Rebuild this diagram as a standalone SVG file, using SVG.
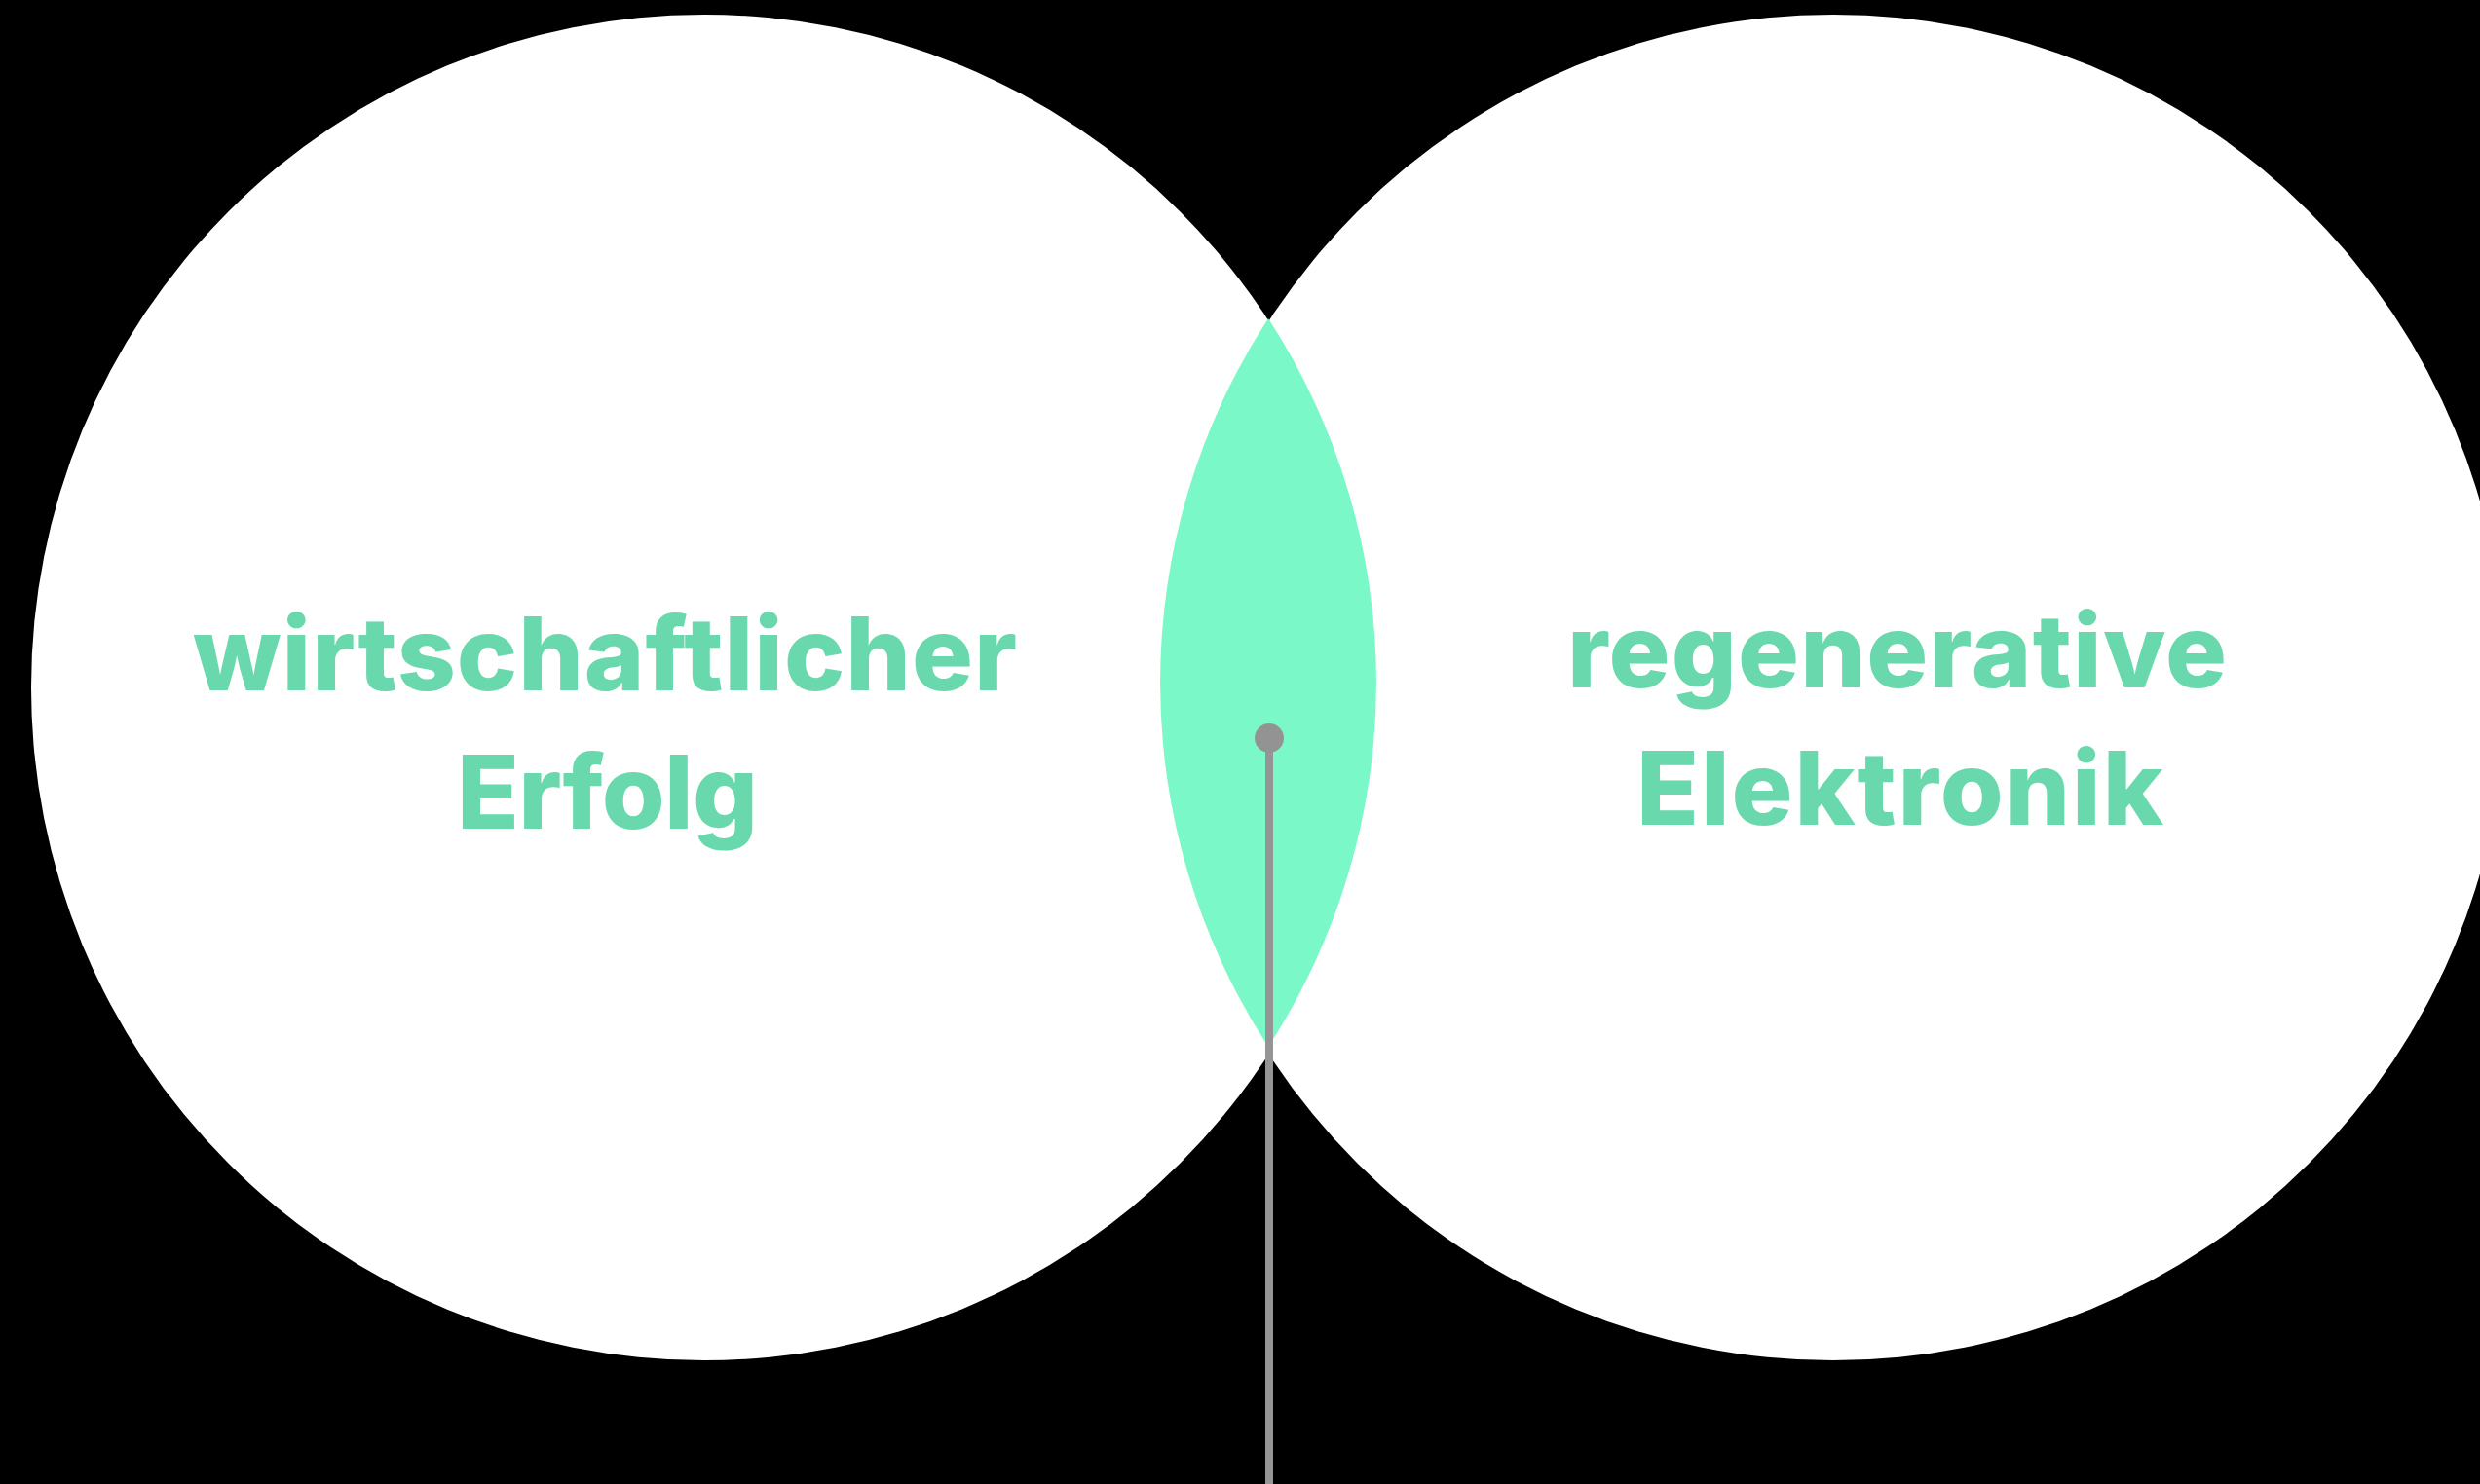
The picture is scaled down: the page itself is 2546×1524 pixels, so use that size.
<svg xmlns="http://www.w3.org/2000/svg" width="2546" height="1524" viewBox="0 0 2546 1524">
  <style>
    .circle { fill: #ffffff; }
    .lens { fill: #7af8c8; }
    .label { font-family: Inter, "Open Sans", "Liberation Sans", sans-serif; font-weight: 800; font-size: 105px; fill: #69d9ad; text-anchor: start; }
    .pointer { stroke: #959595; stroke-width: 8; fill: none; }
    .pin { fill: #939393; }
  </style>
  <rect x="0" y="0" width="2546" height="1524" fill="#000000"/>
  <g id="node-wirtschaftlicher-erfolg">
    <circle class="circle" cx="723" cy="706" r="691"/>
  </g>
  <g id="node-regenerative-elektronik">
    <circle class="circle" cx="1882" cy="706" r="691"/>
  </g>
  <g id="node-intersection">
    <path class="lens" d="M1302,327 A686,686 0 0,1 1302,1075 A686,686 0 0,1 1302,327 Z"/>
  </g>
  <g id="labels">
    <text class="label" x="198" y="709" textLength="846">wirtschaftlicher</text>
    <text class="label" x="469" y="851" textLength="309">Erfolg</text>
    <text class="label" x="1609" y="706" textLength="677">regenerative</text>
    <text class="label" x="1680" y="847" textLength="541">Elektronik</text>
  </g>
  <g id="connectors">
    <line class="pointer" x1="1303" y1="758" x2="1303" y2="1524"/>
    <circle class="pin" cx="1303" cy="758" r="15"/>
  </g>
</svg>
